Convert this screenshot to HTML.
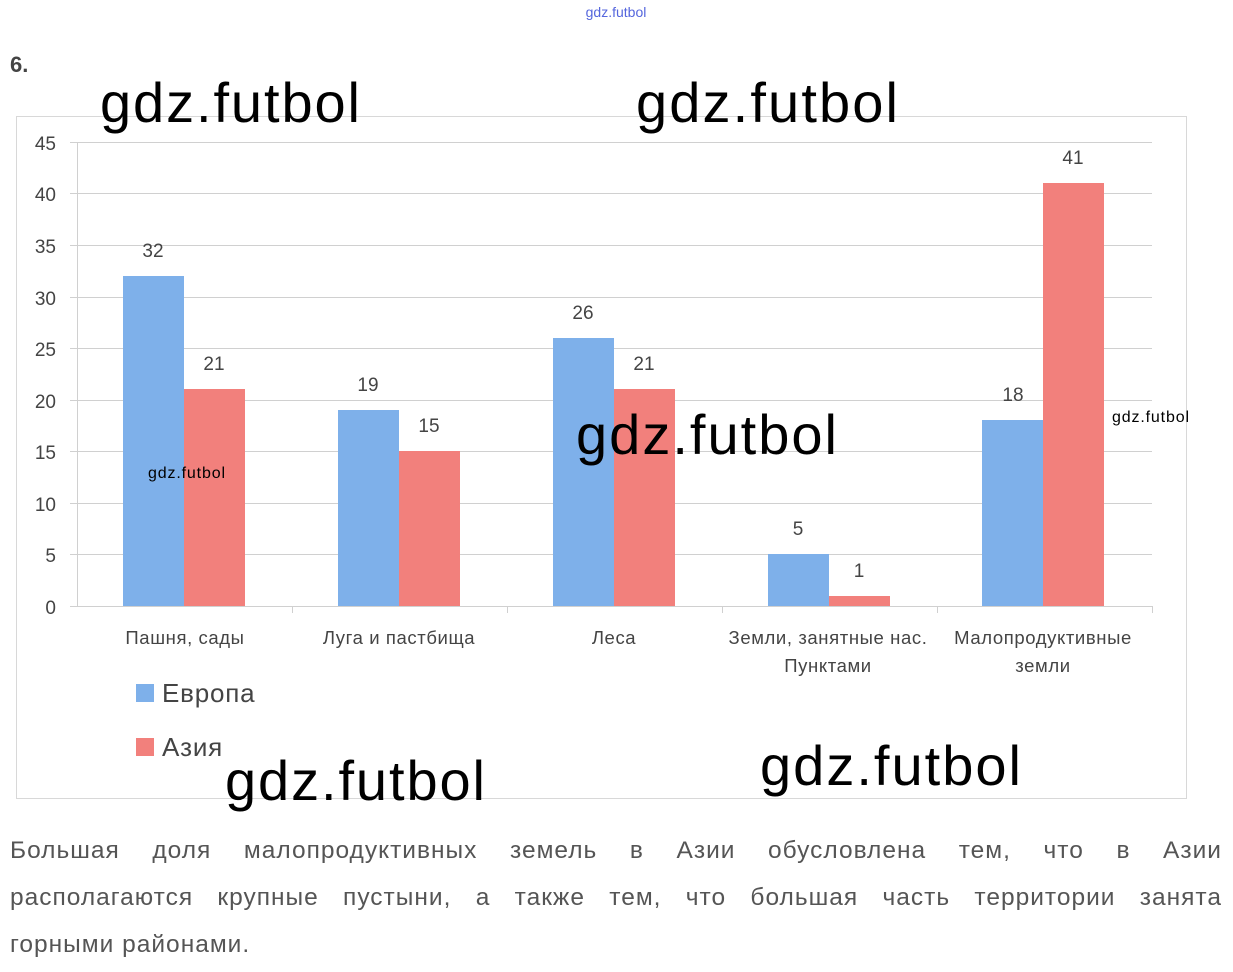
<!DOCTYPE html>
<html><head><meta charset="utf-8"><style>
body{margin:0;background:#fff;width:1233px;height:972px;overflow:hidden;position:relative;font-family:"Liberation Sans","DejaVu Sans",sans-serif}
.l{position:absolute;left:10px;width:1212px;font-size:24.5px;color:#555;text-align:justify;text-align-last:justify;white-space:nowrap;letter-spacing:1px}
</style></head><body>
<svg width="1233" height="972" style="position:absolute;left:0;top:0" font-family="Liberation Sans, DejaVu Sans, sans-serif">
<text x="616" y="17" font-size="14" fill="#5566dd" text-anchor="middle">gdz.futbol</text>
<text x="10" y="72" font-size="22" font-weight="bold" fill="#444">6.</text>
<rect x="16.5" y="116.5" width="1170" height="682" fill="none" stroke="#d8d8d8"/>
<g stroke="#d0d0d0" stroke-width="1">
<line x1="70" x2="1152" y1="142.5" y2="142.5"/><line x1="70" x2="1152" y1="193.5" y2="193.5"/>
<line x1="70" x2="1152" y1="245.5" y2="245.5"/><line x1="70" x2="1152" y1="297.5" y2="297.5"/>
<line x1="70" x2="1152" y1="348.5" y2="348.5"/><line x1="70" x2="1152" y1="400.5" y2="400.5"/>
<line x1="70" x2="1152" y1="451.5" y2="451.5"/><line x1="70" x2="1152" y1="503.5" y2="503.5"/>
<line x1="70" x2="1152" y1="554.5" y2="554.5"/><line x1="70" x2="1152" y1="606.5" y2="606.5"/>
<line x1="77.5" x2="77.5" y1="142" y2="606"/>
<line x1="292.5" x2="292.5" y1="606" y2="613"/><line x1="507.5" x2="507.5" y1="606" y2="613"/>
<line x1="722.5" x2="722.5" y1="606" y2="613"/><line x1="937.5" x2="937.5" y1="606" y2="613"/>
<line x1="1152.5" x2="1152.5" y1="606" y2="613"/>
</g>
<g font-size="19" fill="#444" text-anchor="end">
<text x="56" y="150">45</text><text x="56" y="201">40</text><text x="56" y="253">35</text>
<text x="56" y="305">30</text><text x="56" y="356">25</text><text x="56" y="408">20</text>
<text x="56" y="459">15</text><text x="56" y="511">10</text><text x="56" y="562">5</text><text x="56" y="614">0</text>
</g>
<g fill="#7eb0ea">
<rect x="123" y="276" width="61" height="330"/><rect x="338" y="410" width="61" height="196"/>
<rect x="553" y="338" width="61" height="268"/><rect x="768" y="554" width="61" height="52"/>
<rect x="982" y="420" width="61" height="186"/>
</g>
<g fill="#f2807c">
<rect x="184" y="389" width="61" height="217"/><rect x="399" y="451" width="61" height="155"/>
<rect x="614" y="389" width="61" height="217"/><rect x="829" y="596" width="61" height="10"/>
<rect x="1043" y="183" width="61" height="423"/>
</g>
<g font-size="19" fill="#444" text-anchor="middle">
<text x="153" y="257">32</text><text x="214" y="370">21</text>
<text x="368" y="391">19</text><text x="429" y="432">15</text>
<text x="583" y="319">26</text><text x="644" y="370">21</text>
<text x="798" y="535">5</text><text x="859" y="577">1</text>
<text x="1013" y="401">18</text><text x="1073" y="164">41</text>
</g>
<g font-size="18.5" fill="#444" text-anchor="middle" letter-spacing="0.6">
<text x="185" y="644">Пашня, сады</text><text x="399" y="644">Луга и пастбища</text>
<text x="614" y="644">Леса</text><text x="828" y="644">Земли, занятные нас.</text>
<text x="828" y="672">Пунктами</text><text x="1043" y="644">Малопродуктивные</text>
<text x="1043" y="672">земли</text>
</g>
<rect x="136" y="684" width="18" height="18" fill="#7eb0ea"/>
<text x="162" y="702" font-size="26" fill="#444" letter-spacing="0.8">Европа</text>
<rect x="136" y="738" width="18" height="18" fill="#f2807c"/>
<text x="162" y="756" font-size="26" fill="#444" letter-spacing="0.8">Азия</text>
<g font-size="56" fill="#000">
<text x="100" y="122" textLength="260">gdz.futbol</text><text x="636" y="122" textLength="262">gdz.futbol</text>
<text x="576" y="454" textLength="261">gdz.futbol</text><text x="225" y="800" textLength="260">gdz.futbol</text>
<text x="760" y="785" textLength="261">gdz.futbol</text>
</g>
<text x="148" y="478" font-size="16" fill="#000" textLength="77">gdz.futbol</text>
<text x="1112" y="422" font-size="16" fill="#000" textLength="77">gdz.futbol</text>
</svg>
<div class="l" style="top:837px">Большая доля малопродуктивных земель в Азии обусловлена тем, что в Азии</div>
<div class="l" style="top:884px">располагаются крупные пустыни, а также тем, что большая часть территории занята</div>
<div class="l" style="top:931px;text-align-last:left">горными районами.</div>
</body></html>
